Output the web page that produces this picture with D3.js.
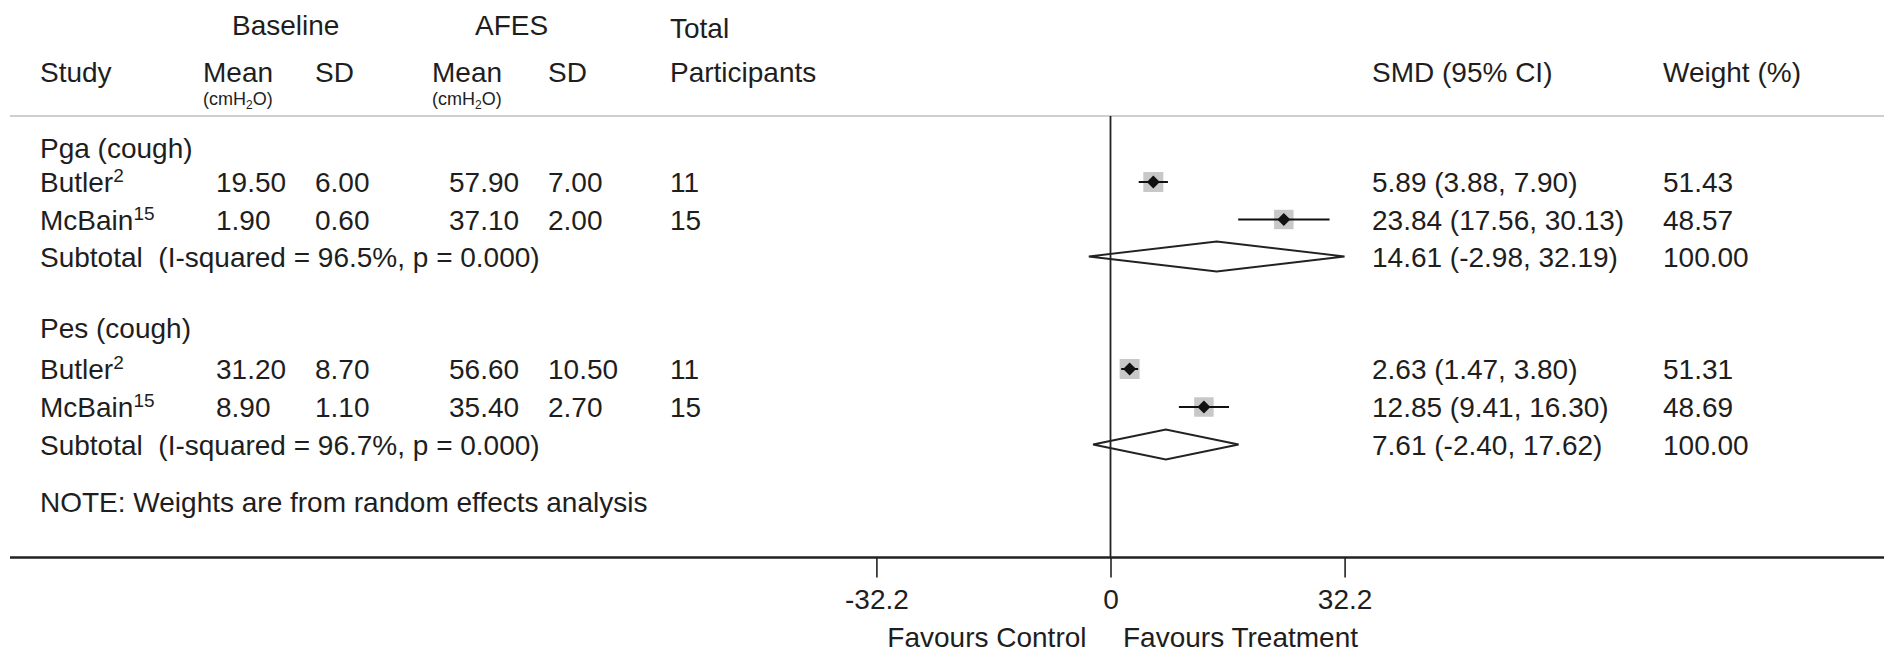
<!DOCTYPE html>
<html>
<head>
<meta charset="utf-8">
<script src="https://cdn.jsdelivr.net/npm/d3@7"></script>
<style>
  html, body { margin: 0; padding: 0; background: #fff; }
  svg { display: block; }
  text { font-family: "Liberation Sans", Arial, sans-serif; fill: #1e1e1e; white-space: pre; }
</style>
</head>
<body>
<svg id="chart" width="1884" height="656"></svg>
<script>
// ---------------- data ----------------
const groups = ["Pga (cough)", "Pes (cough)"];
const studyNames = ["Butler", "McBain", "Butler", "McBain"];
const studyRefs = ["2", "15", "2", "15"];
const studyGroup = [0, 0, 1, 1];
const baseMean = ["19.50", "1.90", "31.20", "8.90"];
const baseSD = ["6.00", "0.60", "8.70", "1.10"];
const afesMean = ["57.90", "37.10", "56.60", "35.40"];
const afesSD = ["7.00", "2.00", "10.50", "2.70"];
const totalN = ["11", "15", "11", "15"];
const smd = [5.89, 23.84, 2.63, 12.85];
const ciLow = [3.88, 17.56, 1.47, 9.41];
const ciHigh = [7.90, 30.13, 3.80, 16.30];
const weights = [51.43, 48.57, 51.31, 48.69];

const subLabel = ["Subtotal  (I-squared = 96.5%, p = 0.000)", "Subtotal  (I-squared = 96.7%, p = 0.000)"];
const subSmd = [14.61, 7.61];
const subLow = [-2.98, -2.40];
const subHigh = [32.19, 17.62];
const subWeight = ["100.00", "100.00"];

const axisTicks = [-32.2, 0, 32.2];
const noteText = "NOTE: Weights are from random effects analysis";

// ---------------- layout ----------------
const svg = d3.select("#chart");
const FS = 28;
const x = d3.scaleLinear().domain([-32.2, 32.2]).range([876.4, 1344.6]);
const boxSize = d3.scaleSqrt().domain([0, 100]).range([0, 27.9]);

// row centres
const groupHeaderY = [148, 328];
const studyY = [182, 219.5, 369, 407];
const subY = [256.5, 444.5];
const noteY = 502;
const axisY = 557.5;
const lineTop = 116;

const col = { study: 40, bMean: 216, bSD: 315, aMean: 449, aSD: 548, total: 670, smd: 1372, weight: 1663 };
const bl = 10; // baseline offset from visual centre

function txt(g, s, xx, yy, size, anchor) {
  return g.append("text").attr("x", xx).attr("y", yy)
    .attr("font-size", size || FS).attr("text-anchor", anchor || "start").text(s);
}

// header
const head = svg.append("g");
txt(head, "Baseline", 232, 35);
txt(head, "AFES", 475, 35);
txt(head, "Total", 670, 38);
txt(head, "Study", col.study, 82);
txt(head, "Mean", 203, 82);
txt(head, "SD", 315, 82);
txt(head, "Mean", 432, 82);
txt(head, "SD", 548, 82);
txt(head, "Participants", 670, 82);
txt(head, "SMD (95% CI)", col.smd, 82);
txt(head, "Weight (%)", col.weight, 82);
[203, 432].forEach(xx => {
  const t = head.append("text").attr("x", xx).attr("y", 105).attr("font-size", 18);
  t.append("tspan").text("(cmH");
  t.append("tspan").attr("font-size", 12).attr("dy", 4).text("2");
  t.append("tspan").attr("dy", -4).text("O)");
});

// header rule
svg.append("line").attr("x1", 10).attr("x2", 1884).attr("y1", lineTop).attr("y2", lineTop)
  .attr("stroke", "#cfcfcf").attr("stroke-width", 2);

// group headers
groups.forEach((gname, i) => txt(svg, gname, col.study, groupHeaderY[i] + bl));

// study rows text
const rows = svg.append("g");
studyNames.forEach((nm, i) => {
  const y = studyY[i] + bl;
  const t = rows.append("text").attr("x", col.study).attr("y", y).attr("font-size", FS);
  t.append("tspan").text(nm);
  t.append("tspan").attr("font-size", 19).attr("dy", -10).text(studyRefs[i]);
  txt(rows, baseMean[i], col.bMean, y);
  txt(rows, baseSD[i], col.bSD, y);
  txt(rows, afesMean[i], col.aMean, y);
  txt(rows, afesSD[i], col.aSD, y);
  txt(rows, totalN[i], col.total, y);
  txt(rows, `${smd[i].toFixed(2)} (${ciLow[i].toFixed(2)}, ${ciHigh[i].toFixed(2)})`, col.smd, y);
  txt(rows, weights[i].toFixed(2), col.weight, y);
});

// subtotal rows text
subLabel.forEach((s, i) => {
  const y = subY[i] + bl;
  txt(rows, s, col.study, y);
  txt(rows, `${subSmd[i].toFixed(2)} (${subLow[i].toFixed(2)}, ${subHigh[i].toFixed(2)})`, col.smd, y);
  txt(rows, subWeight[i], col.weight, y);
});

txt(svg, noteText, col.study, noteY + bl);

// zero line
svg.append("line").attr("x1", x(0)).attr("x2", x(0)).attr("y1", lineTop).attr("y2", axisY)
  .attr("stroke", "#222").attr("stroke-width", 1.8);

// study markers
const marks = svg.append("g");
studyY.forEach((y, i) => {
  const s = boxSize(weights[i]);
  marks.append("rect").attr("x", x(smd[i]) - s / 2).attr("y", y - s / 2)
    .attr("width", s).attr("height", s).attr("fill", "#c8c8c8");
  marks.append("line").attr("x1", x(ciLow[i])).attr("x2", x(ciHigh[i]))
    .attr("y1", y).attr("y2", y).attr("stroke", "#111").attr("stroke-width", 2);
  const cx = x(smd[i]), r = 6.5;
  marks.append("path").attr("d", `M${cx - r},${y}L${cx},${y - r}L${cx + r},${y}L${cx},${y + r}Z`)
    .attr("fill", "#111");
});

// subtotal diamonds
subY.forEach((y, i) => {
  const h = 15;
  marks.append("path")
    .attr("d", `M${x(subLow[i])},${y}L${x(subSmd[i])},${y - h}L${x(subHigh[i])},${y}L${x(subSmd[i])},${y + h}Z`)
    .attr("fill", "none").attr("stroke", "#222").attr("stroke-width", 1.8);
});

// axis
svg.append("line").attr("x1", 10).attr("x2", 1884).attr("y1", axisY).attr("y2", axisY)
  .attr("stroke", "#222").attr("stroke-width", 2.6);
const axis = d3.axisBottom(x).tickValues(axisTicks).tickSize(20).tickPadding(12)
  .tickFormat(d => String(d));
const ag = svg.append("g").attr("transform", `translate(0,${axisY})`).call(axis);
ag.select(".domain").remove();
ag.selectAll(".tick line").attr("stroke", "#222").attr("stroke-width", 1.6);
ag.selectAll(".tick text").attr("font-size", FS).attr("fill", "#1e1e1e")
  .attr("font-family", "Liberation Sans, Arial, sans-serif");

txt(svg, "Favours Control", x(0) - 24, 647, FS, "end");
txt(svg, "Favours Treatment", x(0) + 12.5, 647, FS, "start");
</script>
</body>
</html>
